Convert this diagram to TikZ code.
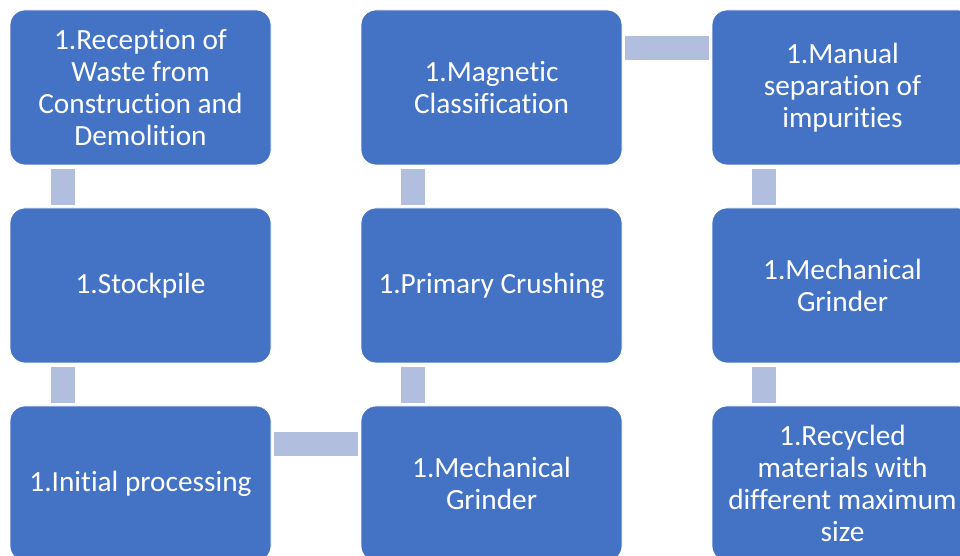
\documentclass[tikz,border=0pt]{standalone}
\usepackage{fontspec}
\setmainfont[Ligatures=NoCommon]{Carlito}
\usetikzlibrary{positioning}
\definecolor{boxblue}{HTML}{4472C4}
\definecolor{connblue}{HTML}{B1BEDE}
\begin{document}
\begin{tikzpicture}[x=1pt,y=1pt,
  stepbox/.style={draw=white, line width=0.8pt, fill=boxblue, rounded corners=15pt,
    minimum width=261pt, minimum height=155pt, inner sep=0pt, text=white,
    align=center, font=\fontsize{29.3}{32}\selectfont},
  conn/.style={draw=connblue, line width=24pt}]
\useasboundingbox (0,0) rectangle (960,556);
\node[stepbox] (b1) at (140.5,468.5) {1.Reception of\\Waste from\\Construction and\\Demolition};
\node[stepbox] (b2) at (140.5,270.5) {1.Stockpile};
\node[stepbox] (b3) at (140.5,72.5) {1.Initial processing};
\node[stepbox] (b4) at (491.5,72.5) {1.Mechanical\\Grinder};
\node[stepbox] (b5) at (491.5,270.5) {1.Primary Crushing};
\node[stepbox] (b6) at (491.5,468.5) {1.Magnetic\\Classification};
\node[stepbox] (b7) at (842.5,468.5) {1.Manual\\separation of\\impurities};
\node[stepbox] (b8) at (842.5,270.5) {1.Mechanical\\Grinder};
\node[stepbox] (b9) at (842.5,72.5) {1.Recycled\\materials with\\different maximum\\size};
% vertical connectors
\draw[conn] ([xshift=53pt,yshift=-4pt]b1.south west) -- ([xshift=53pt,yshift=3pt]b2.north west);
\draw[conn] ([xshift=53pt,yshift=-4pt]b2.south west) -- ([xshift=53pt,yshift=3pt]b3.north west);
\draw[conn] ([xshift=52pt,yshift=3pt]b4.north west) -- ([xshift=52pt,yshift=-4pt]b5.south west);
\draw[conn] ([xshift=52pt,yshift=3pt]b5.north west) -- ([xshift=52pt,yshift=-4pt]b6.south west);
\draw[conn] ([xshift=52pt,yshift=-4pt]b7.south west) -- ([xshift=52pt,yshift=3pt]b8.north west);
\draw[conn] ([xshift=52pt,yshift=-4pt]b8.south west) -- ([xshift=52pt,yshift=3pt]b9.north west);
% horizontal connectors
\draw[conn] ([xshift=3pt,yshift=-38pt]b3.north east) -- ([xshift=-3pt,yshift=-38pt]b4.north west);
\draw[conn] ([xshift=3pt,yshift=-38pt]b6.north east) -- ([xshift=-3pt,yshift=-38pt]b7.north west);
\end{tikzpicture}
\end{document}
